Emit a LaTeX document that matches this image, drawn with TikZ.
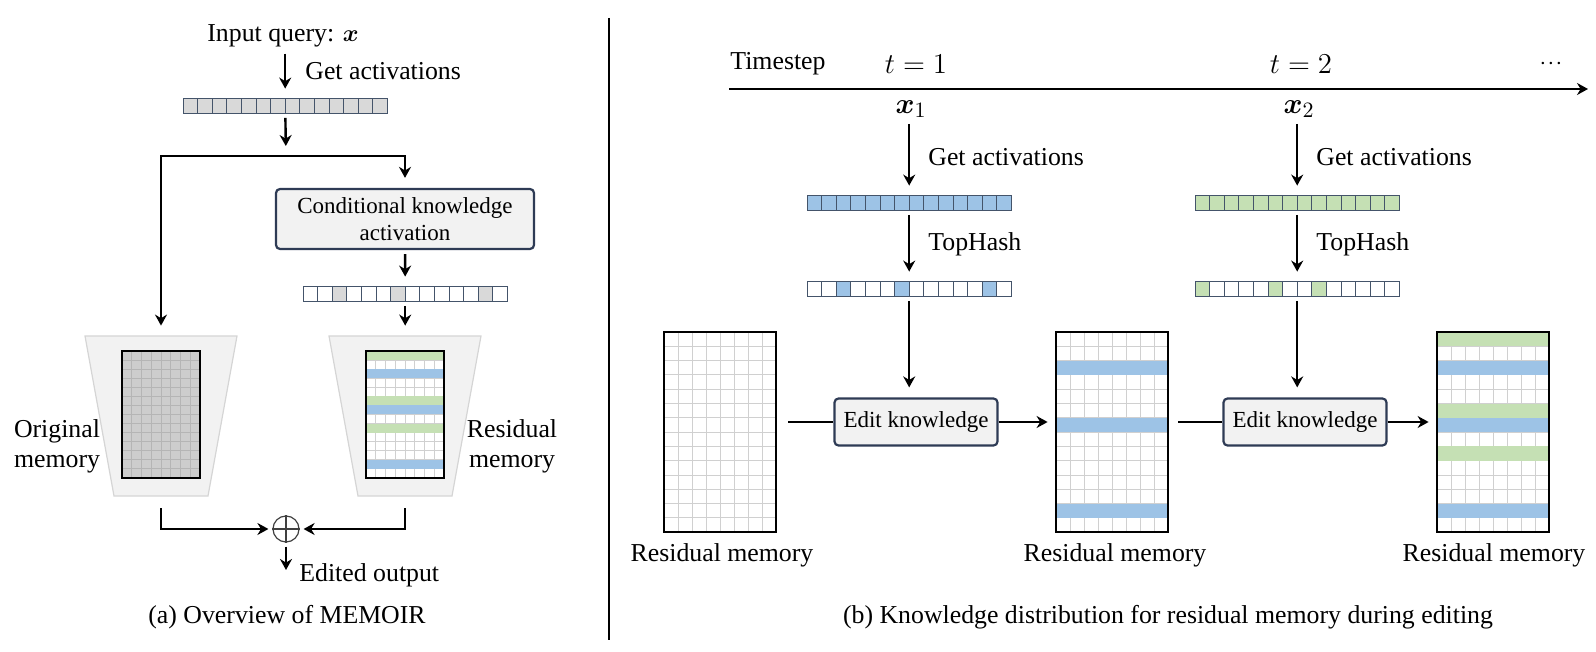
\documentclass[tikz,border=0pt]{standalone}
\usepackage{fontspec}
\setmainfont{Liberation Serif}
\newfontfamily\timesfam{Liberation Serif}
\usepackage{amsmath}
\usepackage{amssymb}
\usepackage{tikz}
\usetikzlibrary{arrows.meta, positioning, fit}
\definecolor{cellgray}{HTML}{D9D9D9}
\definecolor{celledge}{HTML}{44546A}
\definecolor{hitblue}{HTML}{9DC3E6}
\definecolor{hitgreen}{HTML}{C5E0B4}
\definecolor{boxfill}{HTML}{F2F2F2}
\definecolor{boxedge}{HTML}{2E3B55}
\definecolor{trapfill}{HTML}{F2F2F2}
\definecolor{trapedge}{HTML}{D5D5D5}
\definecolor{gridline}{HTML}{D0D0D0}
\definecolor{origfill}{HTML}{CDCDCD}
\definecolor{origline}{HTML}{B5B5B5}
\tikzstyle{arr}=[-{Stealth[length=5.5pt,width=6pt]},line width=1.2pt,shorten <=2pt,shorten >=5pt]
\tikzstyle{wire}=[line width=1.2pt]
\tikzstyle{lbl}=[font=\timesfam\fontsize{12.9}{15}\selectfont, inner sep=1pt]
\tikzstyle{mth}=[font=\fontsize{15}{18}\selectfont, inner sep=1pt]
\tikzstyle{opbox}=[draw=boxedge, fill=boxfill, line width=1.1pt, rounded corners=2pt, font=\timesfam\fontsize{11.5}{13.5}\selectfont, align=center, inner sep=0pt]
\tikzstyle{vcell}=[draw=celledge, line width=0.5pt]
\tikzstyle{trap}=[fill=trapfill, draw=trapedge, line width=0.6pt]
\tikzstyle{spot}=[inner sep=0pt]

% activation vector: name, left x, top y, base fill, hit fill, hit cells
\newcommand{\actvec}[6]{%
  \foreach \i in {0,...,13}
    \draw[vcell,fill=#4] ({#2+\i*14.6},#3) rectangle ++(14.6,14.5);
  \foreach \i in {#6}
    \draw[vcell,fill=#5] ({#2+\i*14.6},#3) rectangle ++(14.6,14.5);
  \node[spot,fit={(#2,#3) ({#2+204.4},{#3+14.5})}] (#1) {};
}

% memory grid: name, left x, top y, cell w, cell h, fill, line colour, stripes
\newcommand{\memgrid}[8]{%
  \fill[#6] (#2,#3) rectangle ++({8*#4},{14*#5});
  \foreach \k in {1,...,7}
    \draw[#7, line width=0.5pt] ({#2+\k*#4},#3) -- ++(0,{14*#5});
  \foreach \k in {1,...,13}
    \draw[#7, line width=0.5pt] (#2,{#3+\k*#5}) -- ++({8*#4},0);
  \foreach \rw/\rcol in {#8}
    \fill[fill=\rcol] (#2,{#3+\rw*#5}) rectangle ++({8*#4},#5);
  \draw[line width=1.2pt] (#2,#3) rectangle ++({8*#4},{14*#5});
  \node[spot,fit={(#2,#3) ({#2+8*#4},{#3+14*#5})}] (#1) {};
}

\begin{document}
\begin{tikzpicture}[x=0.5pt,y=-0.5pt]
\useasboundingbox (0,0) rectangle (1596,652);

% (a) overview
\node[lbl] (query) at (283,36) {Input query: $\boldsymbol{x}$};
\actvec{actA}{183}{99}{cellgray}{cellgray}{0}
\draw[arr] (actA.north |- query.south) -- (actA.north);
\node[lbl,anchor=west] (getA) at (303,71) {Get activations};
\coordinate (split) at (286,156);
\draw[arr] (actA) -- (split);

\node[opbox, minimum width=129pt, minimum height=30pt] (cka) at (405,219) {Conditional knowledge\\activation};
\actvec{actB}{303}{287}{white}{cellgray}{2,6,12}

\filldraw[trap] (85,336) -- (237,336) -- (208,496) -- (114,496) -- cycle;
\node[spot,fit={(85,336) (237,496)}] (origT) {};
\memgrid{origM}{122}{351}{9.75}{9.07}{origfill}{origline}{0/none}
\filldraw[trap] (329,336) -- (481,336) -- (452,496) -- (358,496) -- cycle;
\node[spot,fit={(329,336) (481,496)}] (resT) {};
\memgrid{resM}{366}{351}{9.75}{9.07}{white}{gridline}{0/hitgreen,2/hitblue,5/hitgreen,6/hitblue,8/hitgreen,12/hitblue}

\draw[arr, shorten <=0pt] (split) -| (origT.north);
\draw[arr, shorten <=0pt] (split) -| (cka.north);
\draw[arr] (cka) -- (actB);
\draw[arr] (actB.south) -- (actB.south |- resT.north);

\node[lbl, align=center] (origL) at (57,446) {Original\\memory};
\node[lbl, align=center] (resL) at (512,446) {Residual\\memory};

\node[circle, draw=black!75, line width=0.6pt, minimum size=13pt, inner sep=0pt] (plus) at (286,529) {};
\draw[black!75, line width=0.6pt] (plus.north) -- (plus.south) (plus.west) -- (plus.east);
\draw[arr, shorten <=6pt, shorten >=2pt] (origT.south) |- (plus.west);
\draw[arr, shorten <=6pt, shorten >=2pt] (resT.south) |- (plus.east);
\coordinate (edited) at (286,570);
\draw[arr, shorten >=0pt] (plus) -- (edited);
\node[lbl, anchor=west] (editL) at (297,575) {Edited output};

\node[lbl] (capA) at (287,617) {(a) Overview of MEMOIR};

\draw[line width=1pt] (609,18) -- (609,640);

% (b) residual memory over time
\node[lbl] (tstep) at (778,64) {Timestep};
\node[mth] (t1) at (916,64) {$t=1$};
\node[mth] (t2) at (1301,64) {$t=2$};
\node[lbl] (tdots) at (1551,64) {$\cdot\!\cdot\!\cdot$};
\coordinate (tl0) at (729,89);
\coordinate (tl1) at (1588,89);
\draw[arr, shorten <=0pt, shorten >=0pt] (tl0) -- (tl1);

\memgrid{mem0}{664}{332}{14}{14.3}{white}{gridline}{0/none}
\memgrid{mem1}{1056}{332}{14}{14.3}{white}{gridline}{2/hitblue,6/hitblue,12/hitblue}
\memgrid{mem2}{1437}{332}{14}{14.3}{white}{gridline}{0/hitgreen,2/hitblue,5/hitgreen,6/hitblue,8/hitgreen,12/hitblue}

% t = 1
\node[mth] (x1) at (911,109) {$\boldsymbol{x}_1$};
\actvec{act1}{807}{196}{hitblue}{hitblue}{0}
\draw[arr] (x1.south -| act1.north) -- (act1);
\node[lbl,anchor=west] (ga1) at (926,157) {Get activations};
\actvec{hash1}{807}{282}{white}{hitblue}{2,6,12}
\draw[arr] (act1) -- (hash1);
\node[lbl,anchor=west] (th1) at (926,244) {TopHash};
\node[opbox, minimum width=81.5pt, minimum height=23.5pt] (ek1) at (916,422) {Edit knowledge};
\draw[arr] (hash1.south) -- (hash1.south |- ek1.north);
\draw[wire, shorten <=6pt] (ek1.west -| mem0.east) -- (ek1.west);
\draw[arr, shorten <=0pt, shorten >=4pt] (ek1.east) -- (ek1.east -| mem1.west);

% t = 2
\node[mth] (x2) at (1299,109) {$\boldsymbol{x}_2$};
\actvec{act2}{1195}{196}{hitgreen}{hitgreen}{0}
\draw[arr] (x2.south -| act2.north) -- (act2);
\node[lbl,anchor=west] (ga2) at (1314,157) {Get activations};
\actvec{hash2}{1195}{282}{white}{hitgreen}{0,5,8}
\draw[arr] (act2) -- (hash2);
\node[lbl,anchor=west] (th2) at (1314,244) {TopHash};
\node[opbox, minimum width=81.5pt, minimum height=23.5pt] (ek2) at (1305,422) {Edit knowledge};
\draw[arr] (hash2.south) -- (hash2.south |- ek2.north);
\draw[wire, shorten <=5pt] (ek2.west -| mem1.east) -- (ek2.west);
\draw[arr, shorten <=0pt, shorten >=4pt] (ek2.east) -- (ek2.east -| mem2.west);

\node[lbl] (m0L) at (722,555) {Residual memory};
\node[lbl] (m1L) at (1115,555) {Residual memory};
\node[lbl] (m2L) at (1494,555) {Residual memory};

\node[lbl] (capB) at (1168,617) {(b) Knowledge distribution for residual memory during editing};
\end{tikzpicture}
\end{document}
